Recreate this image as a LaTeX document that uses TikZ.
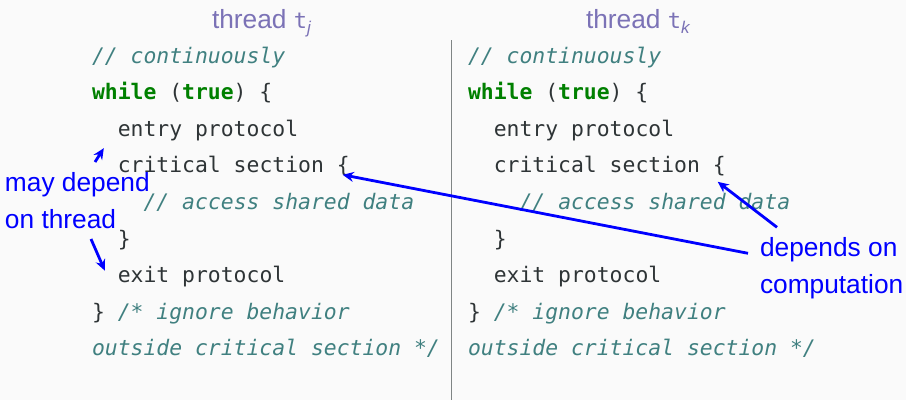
\documentclass[tikz,border=0pt]{standalone}
\usepackage{fontspec}
\setmainfont{Liberation Sans}
\newfontfamily\codefont{DejaVu Sans Mono}
\usetikzlibrary{arrows.meta}
\definecolor{bg}{HTML}{FAFAFA}
\definecolor{codefg}{HTML}{2E3436}
\definecolor{cmt}{HTML}{408080}
\definecolor{kw}{HTML}{008000}
\definecolor{ttl}{HTML}{7B72B6}
\definecolor{sepc}{HTML}{7F8585}
\definecolor{note}{HTML}{0000FF}
\begin{document}
\begin{tikzpicture}[x=1pt,y=-1pt,
  codeline/.style={anchor=base west,inner sep=0pt,outer sep=0pt,text=codefg,
    font=\codefont\fontsize{21.4}{25}\selectfont},
  cmtline/.style={codeline,text=cmt,font=\codefont\itshape\fontsize{21.4}{25}\selectfont},
  ttlbox/.style={anchor=base west,inner sep=0pt,outer sep=0pt,text=ttl,
    font=\fontsize{26.3}{30}\selectfont},
  notebox/.style={anchor=base west,inner sep=0pt,outer sep=0pt,text=note,
    align=left,font=\fontsize{26.3}{36.6}\selectfont},
  notearrow/.style={draw=note,line width=2.8pt,-{Stealth[length=11pt,width=10pt]}}]
\fill[bg] (0,0) rectangle (906,400);
\useasboundingbox (0,0) rectangle (906,400);
% separator
\draw[sepc,line width=1.5pt] (451.5,40) -- (451.5,400);
% titles
\node[ttlbox] (tj) at (212,28.3) {thread {\codefont\fontsize{22}{22}\selectfont t}\raisebox{-5pt}{\fontsize{17}{17}\selectfont\itshape j}};
\node[ttlbox] (tk) at (586,28.3) {thread {\codefont\fontsize{22}{22}\selectfont t}\raisebox{-5pt}{\fontsize{17}{17}\selectfont\itshape k}};
% code columns
\foreach \c/\x in {L/92,R/468} {
  \node[cmtline]  (\c0) at (\x,63)          {// continuously};
  \node[codeline] (\c1) at (\x,99.6)        {\textcolor{kw}{\bfseries while} (\textcolor{kw}{\bfseries true}) \{};
  \node[codeline] (\c2) at (\x+25.8,136.2)  {entry protocol};
  \node[codeline] (\c3) at (\x+25.8,172.8)  {critical section \{};
  \node[cmtline]  (\c4) at (\x+51.6,209.4)  {// access shared data};
  \node[codeline] (\c5) at (\x+25.8,246)    {\}};
  \node[codeline] (\c6) at (\x+25.8,282.6)  {exit protocol};
  \node[codeline] (\c7) at (\x,319.2)       {\} \textcolor{cmt}{\itshape /* ignore behavior}};
  \node[cmtline]  (\c8) at (\x,355.8)       {outside critical section */};
}
% notes (anchor base = baseline of the last line)
\node[notebox] (may) at (5,228) {may depend\\on thread};
\node[notebox] (dep) at (760,293.3) {depends on\\computation};
% arrows
\draw[notearrow] ([shift={(-12,-40)}]dep.base west) -- ([shift={(-7,2)}]L3.base east);
\draw[notearrow] ([shift={(17,-66)}]dep.base west) -- ([shift={(-8,9)}]R3.base east);
\draw[notearrow] ([shift={(90,-66)}]may.base west) -- ([shift={(-14,12)}]L2.base west);
\draw[notearrow] ([shift={(86,11)}]may.base west) -- ([shift={(-13,-12)}]L6.base west);
\end{tikzpicture}
\end{document}
